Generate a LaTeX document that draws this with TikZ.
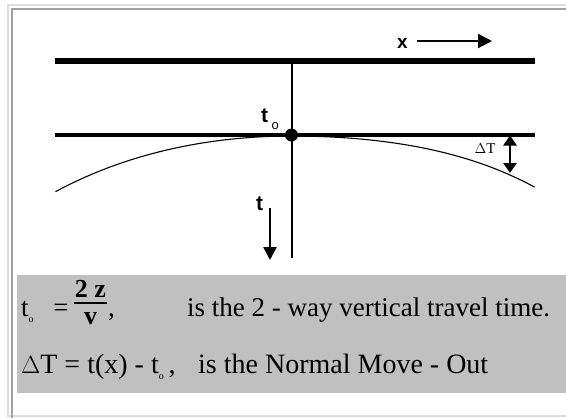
\documentclass[tikz,border=0pt]{standalone}
\usepackage{fontspec}
\setmainfont{Liberation Serif}
\newfontfamily\arialf{Liberation Sans}
\usetikzlibrary{arrows.meta}
\definecolor{framelight}{HTML}{DCDCDC}
\definecolor{framedark}{HTML}{A0A0A0}
\definecolor{boxgray}{HTML}{C0C0C0}
\newcommand{\smallsub}[1]{\raisebox{-6pt}{\fontsize{10}{12}\selectfont #1}}
\tikzset{
  thickline/.style={line width=6pt},
  midline/.style={line width=3.4pt},
  thinline/.style={line width=2pt},
  sanslabel/.style={font=\arialf\bfseries\fontsize{21}{24}\selectfont, inner sep=0pt, anchor=base west},
  lineone/.style={font=\fontsize{27}{30}\selectfont, inner sep=0pt, anchor=base west},
  linetwo/.style={font=\fontsize{28}{32}\selectfont, inner sep=0pt, anchor=base west},
  subo/.style={font=\fontsize{10}{12}\selectfont, inner sep=0pt, anchor=base west},
}
\begin{document}
\begin{tikzpicture}[x=1pt,y=-1pt]
\useasboundingbox (0,0) rectangle (566,418);
% frame
\draw[framelight, line width=1.5pt] (566,5) -- (8,5) -- (8,416) -- (566,416);
\draw[framedark, line width=1.5pt] (566,9) -- (12,9) -- (12,418);
% gray text box
\fill[boxgray] (17,275) rectangle (566,393);
% top (surface) line
\coordinate (sl) at (55,61);
\coordinate (sr) at (535,61);
\draw[thickline] (sl) -- (sr);
% horizontal t0 line
\coordinate (ml) at (55,135);
\coordinate (mr) at (535,135);
\draw[midline] (ml) -- (mr);
% moveout curve
\draw[line width=1.1pt, domain=-2.36:0, samples=50, smooth]
  plot ({291.5+100*\x}, {136 + 8.6*\x*\x + 0.25*\x*\x*\x*\x});
\draw[line width=1.1pt, domain=0:2.43, samples=50, smooth]
  plot ({291.5+100*\x}, {136 + 6.17*\x*\x + 0.419*\x*\x*\x*\x});
% vertical line and dot
\coordinate (vtop) at (291.5,61);
\coordinate (vbot) at (291.5,258);
\draw[thinline] (vtop) -- (vbot);
\node[circle, fill=black, minimum size=13pt, inner sep=0pt] (t0dot) at (291.5,135) {};
\node[sanslabel] (t0lab) at (261,122) {t};
\node[subo, font=\arialf\fontsize{13}{14}\selectfont] (t0sub) at (271.5,129) {o};
% x arrow
\node[sanslabel, font=\arialf\bfseries\fontsize{19}{22}\selectfont] (xlab) at (397,48) {x};
\coordinate (xa1) at (417,41);
\coordinate (xa2) at (492,41);
\draw[line width=2.2pt, -{Triangle[length=14pt,width=14pt]}] (xa1) -- (xa2);
% t arrow
\node[sanslabel] (tlab) at (256,210) {t};
\coordinate (ta1) at (270,208);
\coordinate (ta2) at (270,260);
\draw[line width=2.6pt,-{Triangle[length=13pt,width=13pt]}] (ta1) -- (ta2);
% Delta T arrow
\coordinate (dt1) at (510,135.5);
\coordinate (dt2) at (510,173);
\draw[line width=2.6pt, {Triangle[length=10pt,width=13pt]}-{Triangle[length=10pt,width=13pt]}] (dt1) -- (dt2);
\node[inner sep=0pt, font=\fontsize{15}{16}\selectfont] (dtlab) at (485,149) {$\Delta$T};
% line 1: t_o = 2z/v,
\node[lineone] (eqt) at (21,316) {t\smallsub{o}};
\node[lineone, anchor=base] (eqeq) at (61,316) {=};
\coordinate (barl) at (74,303);
\coordinate (barr) at (107,303);
\draw[line width=1.3pt] (barl) -- (barr);
\node[lineone, anchor=base, font=\bfseries\fontsize{26}{30}\selectfont] (num) at (90.5,297) {2 z};
\node[lineone, anchor=base, font=\bfseries\fontsize{26}{30}\selectfont] (den) at (90.5,324) {v};
\node[lineone] (comma1) at (108,316) {,};
\node[lineone] (txt1) at (187,316) {is the 2 - way vertical travel time.};
% line 2
\node[linetwo] (eq2) at (21,373) {$\Delta$T = t(x) - t\smallsub{o}\,,};
\node[linetwo] (txt2) at (198,373) {is the Normal Move - Out};
\end{tikzpicture}
\end{document}
